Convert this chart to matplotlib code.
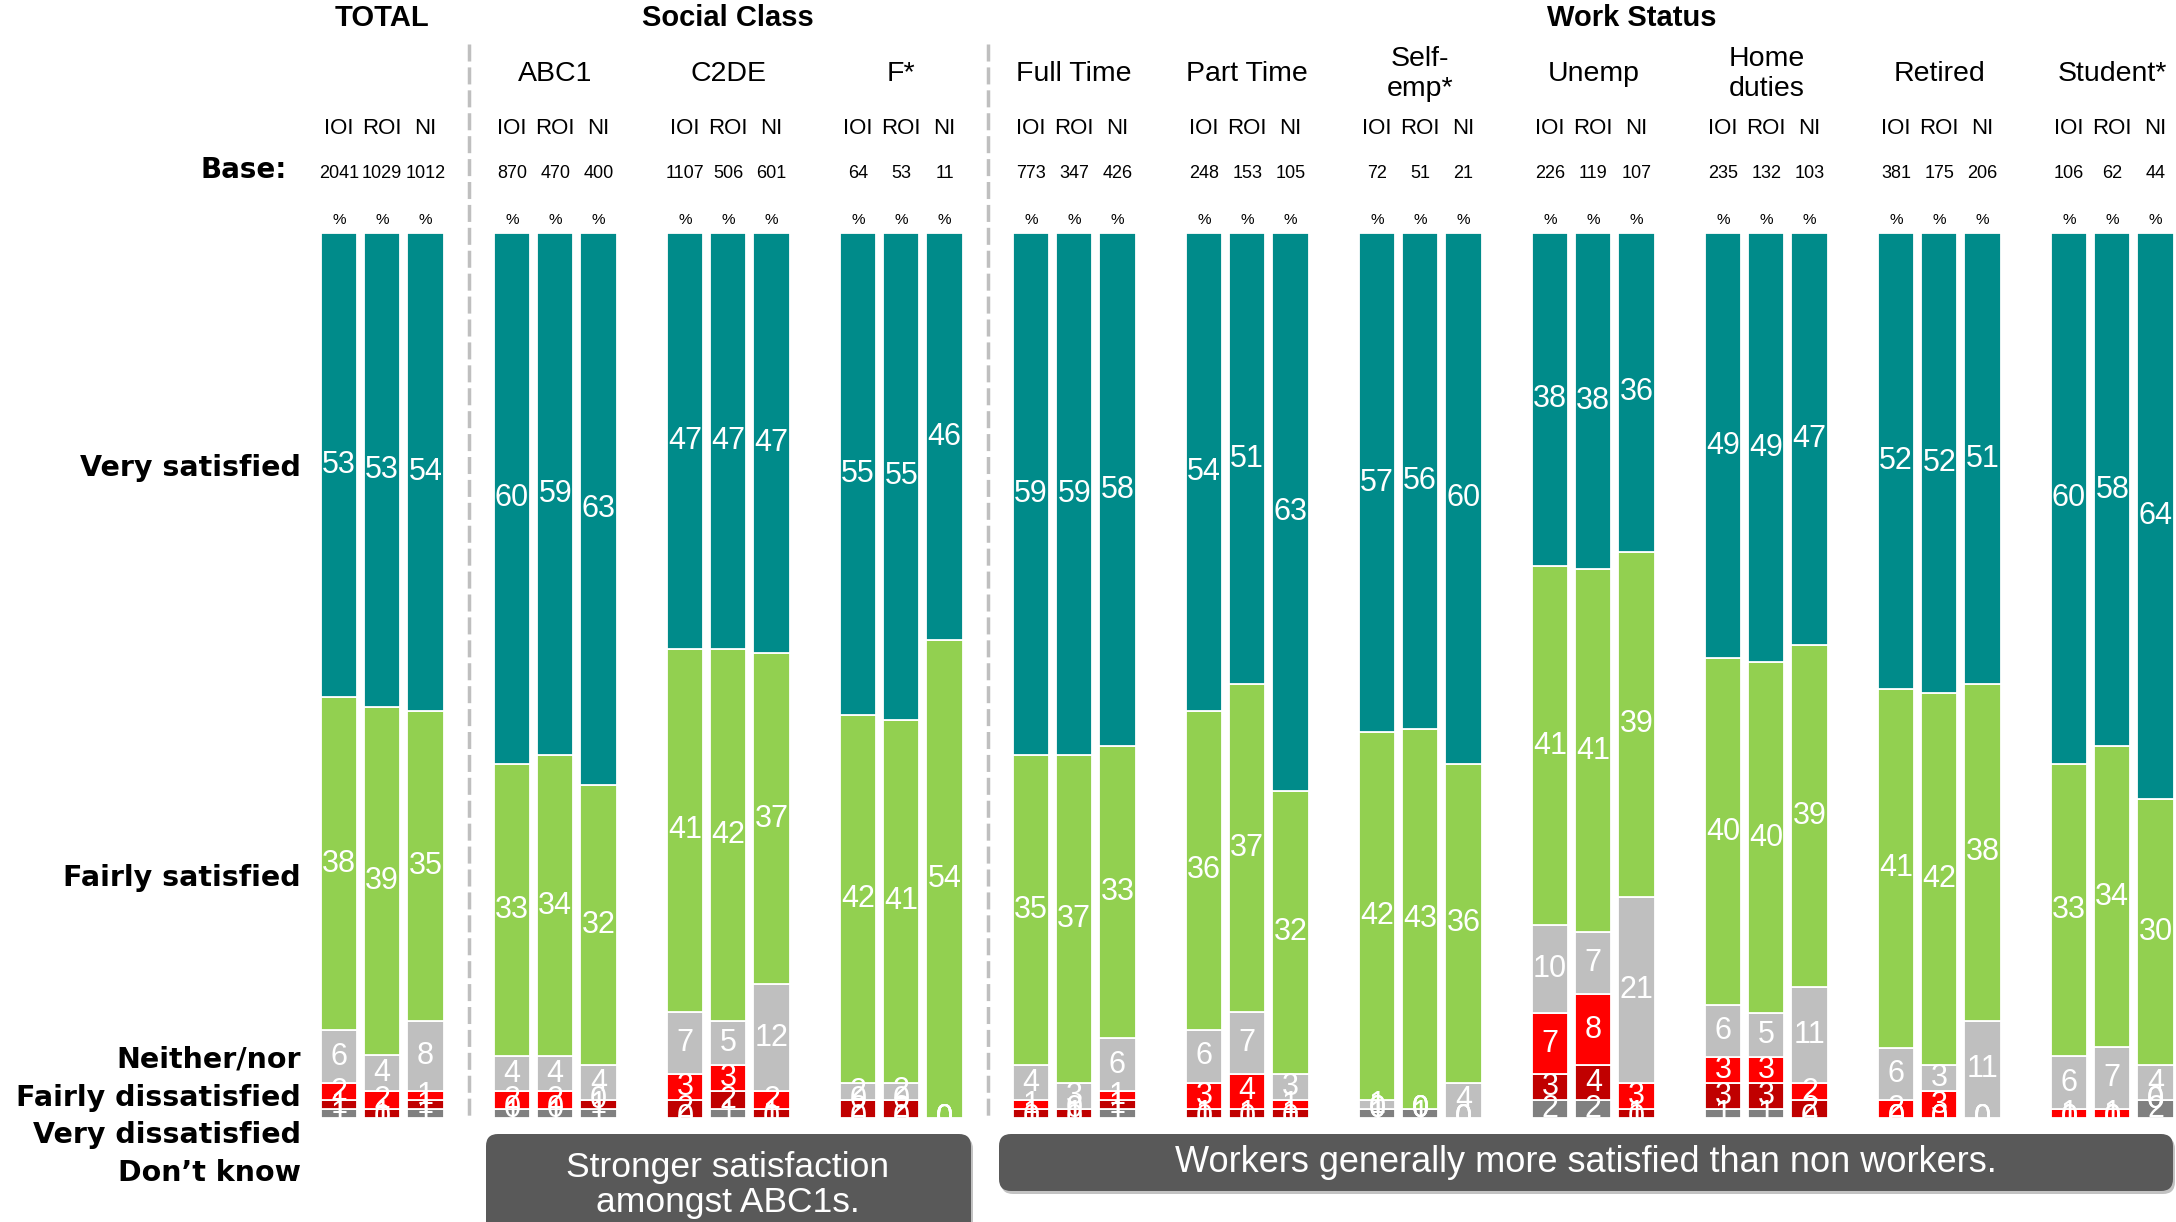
import matplotlib
matplotlib.use("Agg")
import matplotlib.pyplot as plt
from matplotlib.patches import FancyBboxPatch

# ---------------- data ----------------
groups = ["", "ABC1", "C2DE", "F*", "Full Time", "Part Time", "Self-\nemp*",
          "Unemp", "Home\nduties", "Retired", "Student*"]
regions = ["IOI", "ROI", "NI"]
sections = ["TOTAL", "Social Class", "Work Status"]
bases = [2041, 1029, 1012, 870, 470, 400, 1107, 506, 601, 64, 53, 11,
         773, 347, 426, 248, 153, 105, 72, 51, 21, 226, 119, 107,
         235, 132, 103, 381, 175, 206, 106, 62, 44]

categories = ["Very satisfied", "Fairly satisfied", "Neither/nor",
              "Fairly dissatisfied", "Very dissatisfied", "Don\u2019t know"]
very_sat = [53, 53, 54, 60, 59, 63, 47, 47, 47, 55, 55, 46, 59, 59, 58, 54, 51, 63,
            57, 56, 60, 38, 38, 36, 49, 49, 47, 52, 52, 51, 60, 58, 64]
fairly_sat = [38, 39, 35, 33, 34, 32, 41, 42, 37, 42, 41, 54, 35, 37, 33, 36, 37, 32,
              42, 43, 36, 41, 41, 39, 40, 40, 39, 41, 42, 38, 33, 34, 30]
neither = [6, 4, 8, 4, 4, 4, 7, 5, 12, 2, 2, 0, 4, 3, 6, 6, 7, 3,
           1, 0, 4, 10, 7, 21, 6, 5, 11, 6, 3, 11, 6, 7, 4]
fairly_dis = [2, 2, 1, 2, 2, 0, 3, 3, 2, 0, 0, 0, 1, 0, 1, 3, 4, 1,
              0, 0, 0, 7, 8, 3, 3, 3, 2, 2, 3, 0, 1, 1, 0]
very_dis = [1, 1, 1, 0, 0, 1, 2, 2, 1, 2, 2, 0, 1, 1, 1, 1, 1, 1,
            0, 0, 0, 3, 4, 1, 3, 3, 2, 0, 0, 0, 0, 0, 0]
dont_know = [1, 0, 1, 1, 1, 1, 0, 1, 0, 0, 0, 0, 0, 0, 1, 0, 0, 0,
             1, 1, 0, 2, 2, 0, 1, 1, 0, 0, 0, 0, 0, 0, 2]
callouts = ["Stronger satisfaction\namongst ABC1s.",
            "Workers generally more satisfied than non workers."]

colors = {"Don\u2019t know": "#808080", "Very dissatisfied": "#C00000",
          "Fairly dissatisfied": "#FF0000", "Neither/nor": "#BFBFBF",
          "Fairly satisfied": "#92D050", "Very satisfied": "#008B8A"}

# ---------------- figure ----------------
W, H = 2176, 1222
fig = plt.figure(figsize=(W / 100, H / 100), dpi=100)
ax = fig.add_axes([313 / W, 104 / H, (2175 - 313) / W, 885 / H])
ax.set_xlim(-0.6, 42.45)
ax.set_ylim(0, 100)
ax.axis("off")

ov = fig.add_axes([0, 0, 1, 1], zorder=5)
ov.set_xlim(0, W)
ov.set_ylim(H, 0)
ov.axis("off")

NUM = "Liberation Sans"
xs = [g * 4 + b for g in range(len(groups)) for b in range(3)]

stack_order = [("Don\u2019t know", dont_know), ("Very dissatisfied", very_dis),
               ("Fairly dissatisfied", fairly_dis), ("Neither/nor", neither),
               ("Fairly satisfied", fairly_sat), ("Very satisfied", very_sat)]

totals = [sum(s[1][i] for s in stack_order) for i in range(len(xs))]
bottoms = [0.0] * len(xs)
for name, vals in stack_order:
    hs = [v / t * 100 for v, t in zip(vals, totals)]
    ax.bar(xs, hs, bottom=bottoms, width=0.84, color=colors[name],
           edgecolor="white", linewidth=1.3, zorder=2)
    for x, b, h, v in zip(xs, bottoms, hs, vals):
        ax.text(x, b + h / 2, f"{v}", ha="center", va="center", color="white",
                fontsize=22, family=NUM, clip_on=True, zorder=3)
    bottoms = [b + h for b, h in zip(bottoms, hs)]


def px(xu):
    return ax.transData.transform((xu, 0))[0]


# section headers
for name, xc in zip(sections, [1, 9, 29.9]):
    ov.text(px(xc), 18, name, ha="center", va="center", fontsize=21,
            fontweight="bold", family=NUM)

# sub headers, region labels, bases, percents
for g, name in enumerate(groups):
    ov.text(px(g * 4 + 1), 74, name, ha="center", va="center", fontsize=20.5,
            family=NUM, linespacing=1.2)
    for b, r in enumerate(regions):
        x = px(g * 4 + b)
        ov.text(x, 128, r, ha="center", va="center", fontsize=16, family=NUM)
        ov.text(x, 174, f"{bases[g * 3 + b]}", ha="center", va="center",
                fontsize=13, family=NUM)
        ov.text(x, 220, "%", ha="center", va="center", fontsize=11, family=NUM)

ov.text(287, 170, "Base:", ha="right", va="center", fontsize=20,
        fontweight="bold", family="DejaVu Sans")

# row labels
for name, y in zip(categories, [468, 878, 1060, 1098, 1135, 1173]):
    ov.text(301, y, name, ha="right", va="center", fontsize=20.5,
            fontweight="bold", family="DejaVu Sans")

# dividers
for xu in [3, 15]:
    ov.plot([px(xu), px(xu)], [44, 1118], color="#BFBFBF", lw=2.5,
            dashes=(4.9, 1.7), solid_capstyle="butt")

# callout boxes
boxes = [(486, 1134, 485, 120), (999, 1134, 1174, 57)]
for (x0, y0, w, h), txt in zip(boxes, callouts):
    sh = FancyBboxPatch((x0 + 2, y0 + 3), w, h, boxstyle="round,pad=0,rounding_size=12",
                        fc="#9A9A9A", ec="none", alpha=0.6, zorder=1)
    ov.add_patch(sh)
    bx = FancyBboxPatch((x0, y0), w, h, boxstyle="round,pad=0,rounding_size=12",
                        fc="#595959", ec="none", zorder=2)
    ov.add_patch(bx)
ov.text(728, 1185, callouts[0], ha="center", va="center", color="white",
        fontsize=25.5, family=NUM, linespacing=1.05, zorder=3)
ov.text(1586, 1163, callouts[1], ha="center", va="center", color="white",
        fontsize=26, family=NUM, zorder=3)

fig.savefig("out.png", dpi=100)
